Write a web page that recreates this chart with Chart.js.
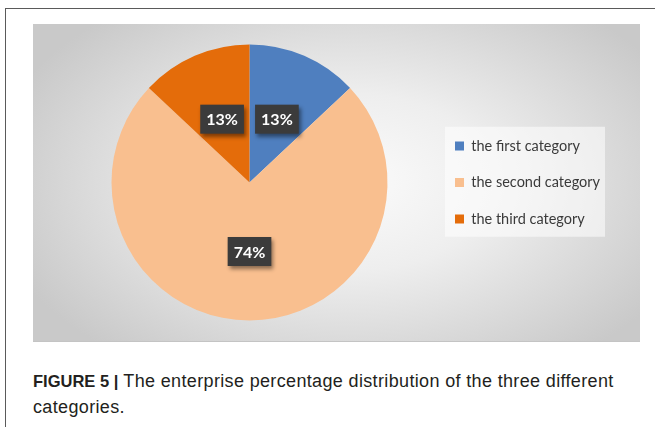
<!DOCTYPE html>
<html>
<head>
<meta charset="utf-8">
<script src="https://cdn.jsdelivr.net/npm/chart.js@4"></script>
<style>
  body { margin: 0; width: 655px; height: 427px; background: #fff; overflow: hidden; position: relative; }
  #frame { position: absolute; left: 5px; top: 8px; width: 700px; height: 500px;
           border-left: 1px solid #5a5a5a; border-top: 1px solid #5a5a5a; }
  #plot { position: absolute; left: 33px; top: 24px; width: 607px; height: 317px;
          background: radial-gradient(ellipse 60% 70% at 52% 50%, #fbfbfb 0%, #eeeeee 40%, #c9c9c9 100%);
          border-bottom: 1px solid #c4c4c4; }
  #caption { position: absolute; left: 33px; top: 368px; width: 620px;
             font-family: "Liberation Sans", Arial, sans-serif;
             font-size: 18px; letter-spacing: 0.35px; line-height: 26px; color: #231f20; }
  #caption b { font-size: 16.5px; letter-spacing: 0; }
</style>
</head>
<body>
<div id="frame"></div>
<div id="plot"><canvas id="pieChart"></canvas></div>
<div id="caption"><b>FIGURE 5 |</b> The enterprise percentage distribution of the three different categories.</div>
<script>
// Data for the three enterprise categories
const categories = ['the first category', 'the second category', 'the third category'];
const shares = [13, 74, 13];
const colors = ['#4f7fbf', '#f9bf8f', '#e46c0a'];

const legendSize = 14.5;
const legendPad = 22;

// work out right padding so the legend sits where the original has it
const measure = document.createElement('canvas').getContext('2d');
measure.font = legendSize + 'px Lato';
const maxText = Math.max(...categories.map(c => measure.measureText(c).width));
const legendWidth = legendPad + 9 + legendSize / 2 + maxText + 10;
const padRight = Math.max(0, 607 - 400 - legendWidth);

// light panel behind the legend
const legendPanel = {
    id: 'legendPanel',
    beforeDraw(chart) {
        const boxes = chart.legend.legendHitBoxes;
        if (!boxes || !boxes.length) return;
        const first = boxes[0], last = boxes[boxes.length - 1];
        const ctx = chart.ctx;
        ctx.save();
        ctx.fillStyle = 'rgba(255,255,255,0.55)';
        ctx.fillRect(first.left - 10, first.top - 12, 160, last.top - first.top + 37);
        ctx.restore();
    }
};

// dark percentage tags in the middle of each slice
const sliceTags = {
    id: 'sliceTags',
    afterDatasetsDraw(chart) {
        const ctx = chart.ctx;
        const meta = chart.getDatasetMeta(0);
        ctx.save();
        ctx.font = 'bold 16px Lato';
        ctx.textAlign = 'center';
        ctx.textBaseline = 'middle';
        meta.data.forEach((arc, i) => {
            const p = arc.getProps(['x', 'y', 'startAngle', 'endAngle', 'outerRadius'], true);
            const mid = (p.startAngle + p.endAngle) / 2;
            const cx = p.x + Math.cos(mid) * p.outerRadius * 0.5;
            const cy = p.y + Math.sin(mid) * p.outerRadius * 0.5;
            const label = shares[i] + '%';
            const w = ctx.measureText(label).width + 12;
            const h = 29;
            ctx.shadowColor = 'rgba(0,0,0,0.45)';
            ctx.shadowBlur = 4;
            ctx.shadowOffsetX = 2;
            ctx.shadowOffsetY = 3;
            ctx.fillStyle = '#3b3b3b';
            ctx.fillRect(cx - w / 2, cy - h / 2, w, h);
            ctx.shadowColor = 'transparent';
            ctx.fillStyle = '#ffffff';
            ctx.fillText(label, cx, cy + 1);
        });
        ctx.restore();
    }
};

const ctx = document.getElementById('pieChart').getContext('2d');

new Chart(ctx, {
    type: 'pie',
    data: {
        labels: categories,
        datasets: [{
            data: shares,
            backgroundColor: colors,
            borderWidth: 0
        }]
    },
    options: {
        responsive: true,
        maintainAspectRatio: false,
        animation: false,
        layout: {
            padding: { left: 33, right: padRight, top: 20.5, bottom: 20.5 }
        },
        plugins: {
            legend: {
                position: 'right',
                labels: {
                    boxWidth: 9,
                    boxHeight: 9,
                    padding: legendPad,
                    color: '#3a3a3a',
                    font: { family: 'Lato', size: legendSize }
                }
            },
            tooltip: { enabled: false }
        }
    },
    plugins: [legendPanel, sliceTags]
});
</script>
</body>
</html>
